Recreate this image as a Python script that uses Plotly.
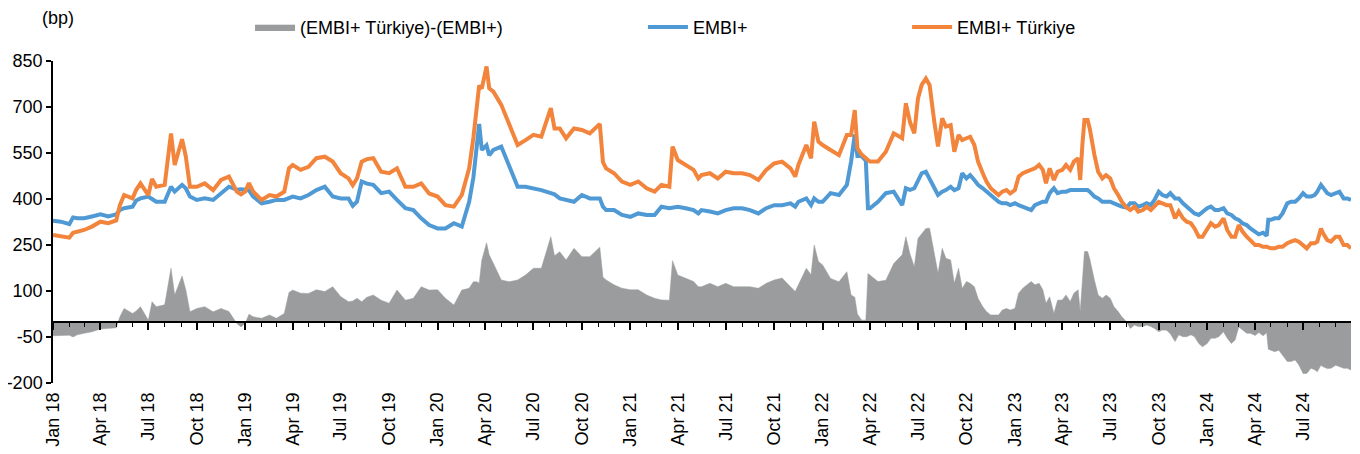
import plotly.graph_objects as go

# ---------------- data ----------------
dates = [
    # 2018
    "2018-01-01", "2018-01-16", "2018-02-01", "2018-02-08", "2018-02-16", "2018-03-01", "2018-03-16",
    "2018-04-01", "2018-04-16", "2018-05-01", "2018-05-08", "2018-05-16", "2018-06-01", "2018-06-08",
    "2018-06-16", "2018-07-01", "2018-07-08", "2018-07-16", "2018-08-01", "2018-08-13", "2018-08-20",
    "2018-09-03", "2018-09-10", "2018-09-18", "2018-10-01", "2018-10-16", "2018-11-01", "2018-11-16",
    "2018-12-01", "2018-12-16", "2018-12-24",
    # 2019
    "2019-01-01", "2019-01-08", "2019-01-16", "2019-02-01", "2019-02-16", "2019-03-01", "2019-03-16",
    "2019-03-25", "2019-04-01", "2019-04-16", "2019-05-01", "2019-05-16", "2019-06-01", "2019-06-16",
    "2019-07-01", "2019-07-16", "2019-07-24", "2019-08-01", "2019-08-10", "2019-08-20", "2019-09-01",
    "2019-09-16", "2019-10-01", "2019-10-16", "2019-11-01", "2019-11-16", "2019-12-01", "2019-12-16",
    # 2020
    "2020-01-01", "2020-01-16", "2020-02-01", "2020-02-16", "2020-03-01", "2020-03-09", "2020-03-16",
    "2020-03-20", "2020-03-25", "2020-04-03", "2020-04-08", "2020-04-16", "2020-05-01", "2020-05-16",
    "2020-06-01", "2020-06-16", "2020-07-01", "2020-07-16", "2020-08-03", "2020-08-10", "2020-08-20",
    "2020-09-01", "2020-09-16", "2020-10-01", "2020-10-16", "2020-11-04", "2020-11-10", "2020-11-16",
    "2020-12-01", "2020-12-16",
    # 2021
    "2021-01-01", "2021-01-16", "2021-02-01", "2021-02-16", "2021-03-01", "2021-03-16", "2021-03-22",
    "2021-04-01", "2021-04-16", "2021-05-01", "2021-05-10", "2021-05-16", "2021-06-01", "2021-06-16",
    "2021-07-01", "2021-07-16", "2021-08-01", "2021-08-16", "2021-09-01", "2021-09-16", "2021-10-01",
    "2021-10-16", "2021-11-01", "2021-11-10", "2021-11-16", "2021-12-01", "2021-12-10", "2021-12-16",
    "2021-12-24",
    # 2022
    "2022-01-01", "2022-01-16", "2022-02-01", "2022-02-16", "2022-02-24", "2022-03-03", "2022-03-08",
    "2022-03-16", "2022-03-24", "2022-03-28", "2022-04-01", "2022-04-16", "2022-05-01", "2022-05-16",
    "2022-06-01", "2022-06-08", "2022-06-16", "2022-06-24", "2022-07-01", "2022-07-08", "2022-07-16",
    "2022-07-23", "2022-08-01", "2022-08-08", "2022-08-16", "2022-08-23", "2022-09-01", "2022-09-08",
    "2022-09-16", "2022-09-23", "2022-10-01", "2022-10-08", "2022-10-16", "2022-10-23", "2022-11-01",
    "2022-11-08", "2022-11-16", "2022-11-23", "2022-12-01", "2022-12-08", "2022-12-16", "2022-12-23",
    # 2023
    "2023-01-01", "2023-01-08", "2023-01-16", "2023-01-23", "2023-02-01", "2023-02-08", "2023-02-16",
    "2023-02-23", "2023-03-01", "2023-03-08", "2023-03-16", "2023-03-23", "2023-04-01", "2023-04-08",
    "2023-04-16", "2023-04-23", "2023-05-01", "2023-05-05", "2023-05-09", "2023-05-13", "2023-05-19",
    "2023-05-23", "2023-06-01", "2023-06-08", "2023-06-16", "2023-06-23", "2023-07-01", "2023-07-08",
    "2023-07-16", "2023-07-23", "2023-08-01", "2023-08-08", "2023-08-16", "2023-08-23", "2023-09-01",
    "2023-09-08", "2023-09-16", "2023-09-23", "2023-10-01", "2023-10-08", "2023-10-16", "2023-10-23",
    "2023-11-01", "2023-11-08", "2023-11-16", "2023-11-23", "2023-12-01", "2023-12-08", "2023-12-16",
    "2023-12-23",
    # 2024
    "2024-01-01", "2024-01-08", "2024-01-16", "2024-01-23", "2024-02-01", "2024-02-08", "2024-02-16",
    "2024-02-23", "2024-03-01", "2024-03-08", "2024-03-16", "2024-03-23", "2024-04-01", "2024-04-08",
    "2024-04-16", "2024-04-23", "2024-04-26", "2024-05-01", "2024-05-08", "2024-05-16", "2024-05-23",
    "2024-06-01", "2024-06-08", "2024-06-16", "2024-06-23", "2024-07-01", "2024-07-08", "2024-07-16",
    "2024-07-23", "2024-07-28", "2024-08-04", "2024-08-08", "2024-08-16", "2024-08-23", "2024-09-01",
    "2024-09-08", "2024-09-16", "2024-09-23", "2024-09-30",
]

embi_plus = [
    # 2018
    329, 326, 318, 340, 337, 337, 343, 350, 343, 350, 364, 370, 375, 395, 402, 408, 400, 391, 391, 440,
    424, 446, 435, 408, 397, 402, 397, 419, 440, 430, 432,
    # 2019
    430, 428, 408, 386, 391, 397, 397, 405, 408, 402, 413, 429, 440, 408, 402, 402, 378, 391, 457, 450,
    446, 419, 424, 397, 370, 364, 337, 315,
    # 2020
    304, 304, 321, 310, 391, 470, 590, 645, 560, 575, 543, 560, 571, 511, 440, 440, 435, 429, 419, 415,
    402, 397, 391, 413, 402, 402, 375, 364, 364, 348,
    # 2021
    342, 353, 348, 348, 375, 370, 372, 375, 370, 364, 353, 364, 359, 353, 364, 370, 370, 364, 353, 370,
    380, 380, 386, 375, 391, 402, 380, 402, 391,
    # 2022
    391, 419, 413, 446, 522, 610, 540, 540, 525, 370, 370, 391, 419, 424, 380, 435, 430, 435, 457, 484,
    489, 467, 435, 413, 424, 429, 440, 429, 435, 484, 467, 478, 462, 446, 435, 424, 413, 402, 391, 386,
    386, 380,
    # 2023
    386, 380, 375, 370, 364, 380, 386, 391, 391, 419, 435, 419, 424, 424, 429, 429, 429, 429, 429, 429,
    429, 424, 408, 402, 391, 391, 391, 386, 380, 375, 372, 386, 386, 375, 380, 386, 380, 397, 424, 413,
    408, 419, 402, 402, 386, 375, 364, 353, 348, 359,
    # 2024
    370, 375, 364, 364, 370, 353, 348, 337, 332, 321, 315, 304, 295, 285, 290, 280, 332, 332, 337, 337,
    353, 386, 391, 391, 402, 419, 408, 408, 413, 424, 446, 435, 419, 413, 419, 424, 402, 402, 397,
]

embi_turkiye = [
    # 2018
    283, 280, 274, 290, 294, 299, 310, 326, 321, 330, 380, 413, 402, 430, 451, 413, 465, 440, 446, 614,
    511, 595, 540, 440, 440, 451, 429, 462, 473, 424, 415,
    # 2019
    425, 452, 424, 397, 413, 408, 424, 500, 511, 495, 505, 533, 538, 522, 484, 467, 445, 467, 522, 530,
    533, 489, 484, 500, 440, 440, 451, 418,
    # 2020
    408, 380, 375, 413, 500, 600, 720, 770, 760, 832, 761, 750, 707, 641, 576, 592, 609, 603, 696, 630,
    630, 598, 630, 625, 614, 645, 520, 500, 484, 457,
    # 2021
    446, 457, 435, 424, 446, 440, 571, 527, 511, 495, 467, 478, 484, 467, 489, 484, 484, 478, 462, 495,
    516, 522, 500, 473, 511, 576, 533, 652, 587,
    # 2022
    576, 560, 543, 609, 609, 690, 565, 545, 530, 527, 522, 522, 554, 614, 598, 712, 650, 614, 728, 772,
    793, 772, 652, 571, 663, 636, 641, 554, 609, 592, 598, 603, 576, 522, 484, 457, 435, 424, 413, 424,
    429, 418,
    # 2023
    429, 473, 484, 489, 495, 500, 511, 495, 451, 500, 462, 489, 495, 511, 495, 522, 533, 462, 576, 658,
    658, 630, 543, 489, 467, 478, 467, 435, 413, 391, 372, 364, 375, 359, 364, 375, 364, 375, 391, 386,
    380, 380, 337, 359, 337, 326, 321, 304, 277, 277,
    # 2024
    299, 321, 310, 315, 337, 299, 277, 277, 315, 294, 277, 266, 250, 250, 244, 244, 242, 239, 239, 244,
    244, 256, 261, 266, 261, 250, 239, 256, 256, 261, 304, 288, 266, 261, 277, 277, 250, 250, 239,
]

spread = [t - e for t, e in zip(embi_turkiye, embi_plus)]

y_ticks = [-200, -50, 100, 250, 400, 550, 700, 850]
y_tick_text = ["-200", "-50", "100", "250", "400", "550", "700", "850"]
x_start, x_end = "2018-01-01", "2024-09-30"

names = ["(EMBI+ Türkiye)-(EMBI+)", "EMBI+", "EMBI+ Türkiye"]

# ---------------- styling ----------------
GRAY = "#9A9C9D"
BLUE = "#4F99D5"
ORANGE = "#F2843C"
FONT = "Liberation Sans, Arial, sans-serif"
FS = 18

fig = go.Figure()
fig.add_trace(go.Scatter(
    x=dates, y=spread, name=names[0], mode="lines", fill="tozeroy",
    line=dict(width=0.5, color=GRAY), fillcolor=GRAY, xaxis="x2", legend="legend2",
    showlegend=True, hoverinfo="skip"))
fig.add_trace(go.Scatter(
    x=dates, y=embi_plus, name=names[1], mode="lines",
    line=dict(width=4, color=BLUE), legend="legend3", showlegend=True))
fig.add_trace(go.Scatter(
    x=dates, y=embi_turkiye, name=names[2], mode="lines",
    line=dict(width=4, color=ORANGE), legend="legend4", showlegend=True))

y_min, y_max = y_ticks[0], y_ticks[-1]
zero_pos = (0 - y_min) / (y_max - y_min)

legend_common = dict(orientation="h", yanchor="middle", y=1.105, xanchor="left",
                     bgcolor="rgba(0,0,0,0)", font=dict(family=FONT, size=FS, color="black"),
                     itemwidth=40, tracegroupgap=0)

fig.update_layout(
    width=1360, height=454,
    margin=dict(l=45, r=17, t=53, b=79, autoexpand=False),
    showlegend=True,
    paper_bgcolor="white", plot_bgcolor="white",
    font=dict(family=FONT, size=FS, color="black"),
    legend2=dict(legend_common, x=0.1518),
    legend3=dict(legend_common, x=0.4545),
    legend4=dict(legend_common, x=0.658),
    xaxis=dict(
        range=[x_start, x_end], tickformat="%b %y", dtick="M3", tick0="2018-01-01",
        tickangle=-90, ticks="", showline=False, showgrid=False, zeroline=False,
        tickfont=dict(family=FONT, size=FS, color="black"), ticklabelstandoff=5,
        automargin=False,
    ),
    xaxis2=dict(
        overlaying="x", matches="x", anchor="free", position=zero_pos, side="bottom",
        showline=True, linecolor="black", linewidth=2,
        ticks="outside", ticklen=7, tickwidth=1.5, tickcolor="black",
        dtick="M3", tick0="2018-01-01", showticklabels=False, showgrid=False, zeroline=False,
        minor=dict(dtick="M1", ticks="outside", ticklen=4, tickwidth=1, tickcolor="black",
                   showgrid=False),
        automargin=False,
    ),
    yaxis=dict(
        range=[y_min, y_max], tickvals=y_ticks, ticktext=y_tick_text,
        showline=True, linecolor="black", linewidth=1.5,
        ticks="outside", ticklen=5, tickwidth=1.5, tickcolor="black", showgrid=False,
        zeroline=False, tickfont=dict(family=FONT, size=FS, color="black"), automargin=False,
    ),
    annotations=[dict(text="(bp)", xref="paper", yref="paper", x=0.0035, y=1.1335,
                      xanchor="center", yanchor="middle", showarrow=False,
                      font=dict(family=FONT, size=FS, color="black"))],
)

fig.write_html("out.html")
